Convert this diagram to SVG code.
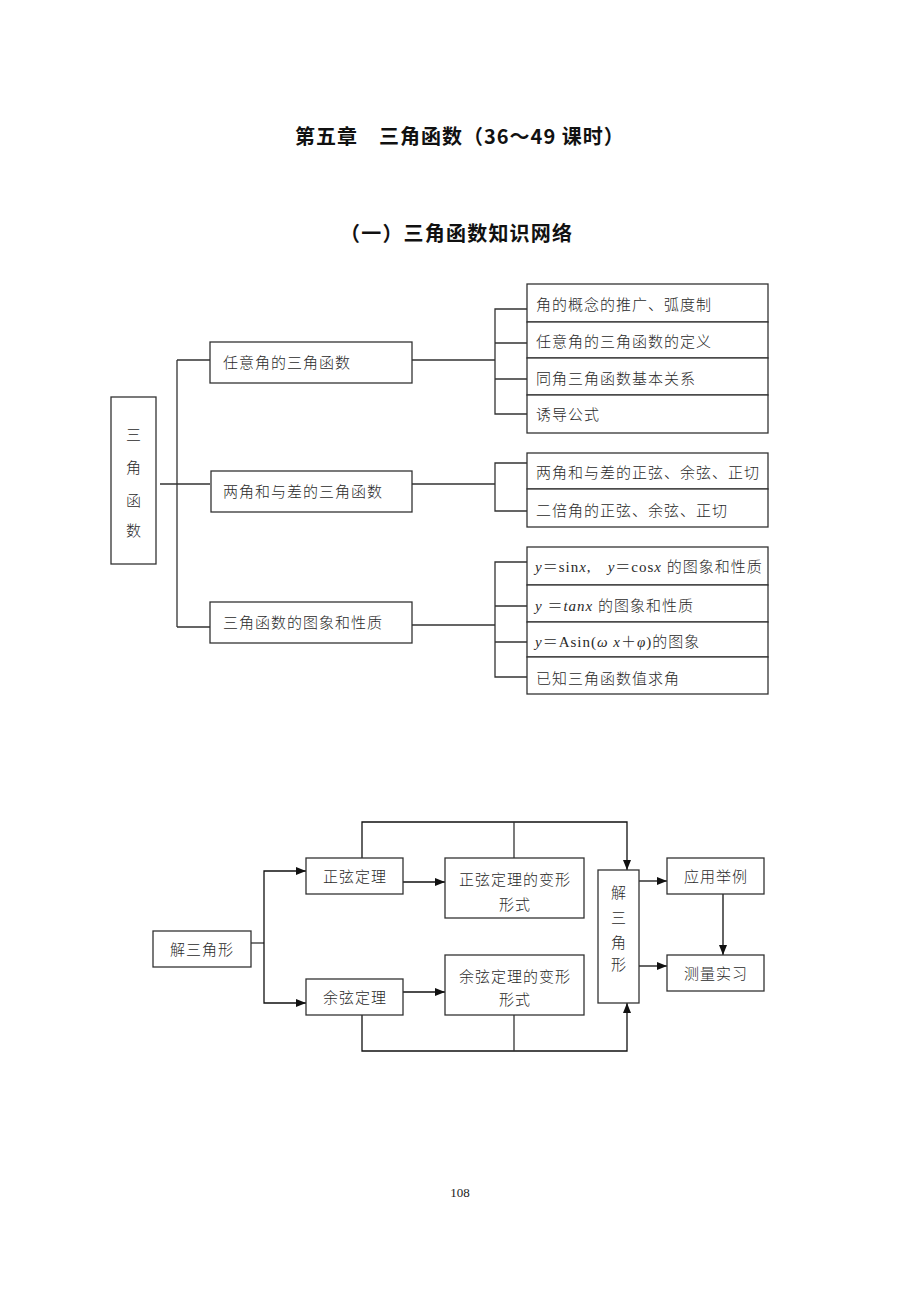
<svg xmlns="http://www.w3.org/2000/svg" width="920" height="1302" viewBox="0 0 920 1302">
<style>
.bx{fill:#fff;stroke:#333;stroke-width:1.3}
.ln{fill:none;stroke:#333;stroke-width:1.3}
.ar{fill:none;stroke:#111;stroke-width:1.3;marker-end:url(#ah)}
.t{font-family:"Liberation Serif","Noto Sans CJK SC",serif;font-size:15px;font-weight:300;letter-spacing:1px;fill:#2a2a2a}
.c{text-anchor:middle}
.h{font-family:"Noto Sans CJK SC",sans-serif;font-weight:bold;font-size:20px;fill:#111}
.i{font-style:italic}
</style>
<defs>
<marker id="ah" markerUnits="userSpaceOnUse" markerWidth="10" markerHeight="8" refX="10" refY="4" orient="auto"><path d="M0,0L10,4L0,8z" fill="#111"/></marker>
</defs>
<rect width="920" height="1302" fill="#fff"/>
<g id="titles">
<text class="h" x="295" y="144" letter-spacing="1">第五章　三角函数（36～49 课时）</text>
<text class="h" x="340" y="241" letter-spacing="1.2">（一）三角函数知识网络</text>
</g>
<g id="connectors">
<path class="ln" d="M160,484H210M177,360V627M177,360H210M177,627H210"/>
<path class="ln" d="M412,360H495M527,309H495V414H527M495,343H527M495,379H527"/>
<path class="ln" d="M412,484H495M527,463H495V511H527"/>
<path class="ln" d="M412,625H495M527,562H495V677H527M495,606H527M495,642H527"/>
<path class="ln" d="M251,943H264"/>
<path class="ar" d="M264,943V871H306"/>
<path class="ar" d="M264,943V1003H306"/>
<path class="ar" d="M403,882H445"/>
<path class="ar" d="M403,992H445"/>
<path class="ar" d="M362,858V822H627V870"/>
<path class="ln" d="M514,858V822"/>
<path class="ar" d="M362,1015V1051H627V1003"/>
<path class="ln" d="M514,1015V1051"/>
<path class="ar" d="M639,881H667"/>
<path class="ar" d="M639,966H667"/>
<path class="ar" d="M723,894V955"/>
</g>
<g id="n-sanjiao">
<rect class="bx" x="111" y="397" width="45" height="167"/>
<text class="t c" x="134" y="440">三</text>
<text class="t c" x="134" y="473">角</text>
<text class="t c" x="134" y="506">函</text>
<text class="t c" x="134" y="536">数</text>
</g>
<g id="n-renyi"><rect class="bx" x="210" y="342" width="202" height="41"/><text class="t" x="223" y="368">任意角的三角函数</text></g>
<g id="n-liangjiao"><rect class="bx" x="211" y="471" width="201" height="41"/><text class="t" x="223" y="497">两角和与差的三角函数</text></g>
<g id="n-tuxiang"><rect class="bx" x="210" y="602" width="202" height="41"/><text class="t" x="223" y="628">三角函数的图象和性质</text></g>
<g id="n-a1"><rect class="bx" x="527" y="284" width="241" height="38"/><text class="t" x="536" y="310">角的概念的推广、弧度制</text></g>
<g id="n-a2"><rect class="bx" x="527" y="322" width="241" height="36"/><text class="t" x="536" y="347">任意角的三角函数的定义</text></g>
<g id="n-a3"><rect class="bx" x="527" y="358" width="241" height="37"/><text class="t" x="536" y="384">同角三角函数基本关系</text></g>
<g id="n-a4"><rect class="bx" x="527" y="395" width="241" height="38"/><text class="t" x="536" y="420">诱导公式</text></g>
<g id="n-b1"><rect class="bx" x="527" y="453" width="241" height="36"/><text class="t" x="536" y="478">两角和与差的正弦、余弦、正切</text></g>
<g id="n-b2"><rect class="bx" x="527" y="489" width="241" height="38"/><text class="t" x="536" y="516">二倍角的正弦、余弦、正切</text></g>
<g id="n-c1"><rect class="bx" x="527" y="547" width="241" height="38"/><text class="t" x="535" y="572" letter-spacing="0.3"><tspan class="i">y</tspan>＝sin<tspan class="i">x</tspan>,　<tspan class="i">y</tspan>＝cos<tspan class="i">x</tspan> 的图象和性质</text></g>
<g id="n-c2"><rect class="bx" x="527" y="585" width="241" height="37"/><text class="t" x="535" y="611"><tspan class="i">y</tspan> ＝<tspan class="i">tanx</tspan> 的图象和性质</text></g>
<g id="n-c3"><rect class="bx" x="527" y="622" width="241" height="35"/><text class="t" x="535" y="647" letter-spacing="0"><tspan class="i">y</tspan>＝Asin(<tspan class="i">ω x</tspan>＋<tspan class="i">φ</tspan>)的图象</text></g>
<g id="n-c4"><rect class="bx" x="527" y="657" width="241" height="37"/><text class="t" x="536" y="684">已知三角函数值求角</text></g>
<g id="n-jie"><rect class="bx" x="153" y="931" width="98" height="36"/><text class="t c" x="202" y="955">解三角形</text></g>
<g id="n-zx"><rect class="bx" x="306" y="858" width="97" height="36"/><text class="t c" x="355" y="882">正弦定理</text></g>
<g id="n-yx"><rect class="bx" x="306" y="979" width="97" height="36"/><text class="t c" x="355" y="1003">余弦定理</text></g>
<g id="n-zxb"><rect class="bx" x="445" y="858" width="139" height="60"/><text class="t c" x="515" y="885">正弦定理的变形</text><text class="t c" x="515" y="910">形式</text></g>
<g id="n-yxb"><rect class="bx" x="445" y="955" width="139" height="60"/><text class="t c" x="515" y="982">余弦定理的变形</text><text class="t c" x="515" y="1005">形式</text></g>
<g id="n-jie2">
<rect class="bx" x="598" y="870" width="41" height="133"/>
<text class="t c" x="619" y="898">解</text>
<text class="t c" x="619" y="923">三</text>
<text class="t c" x="619" y="948">角</text>
<text class="t c" x="619" y="970">形</text>
</g>
<g id="n-yy"><rect class="bx" x="667" y="858" width="97" height="36"/><text class="t c" x="716" y="882">应用举例</text></g>
<g id="n-cl"><rect class="bx" x="667" y="955" width="97" height="36"/><text class="t c" x="716" y="979">测量实习</text></g>
<g id="page"><text x="460" y="1197" text-anchor="middle" font-family="Liberation Serif,serif" font-size="13" fill="#222">108</text></g>
</svg>
